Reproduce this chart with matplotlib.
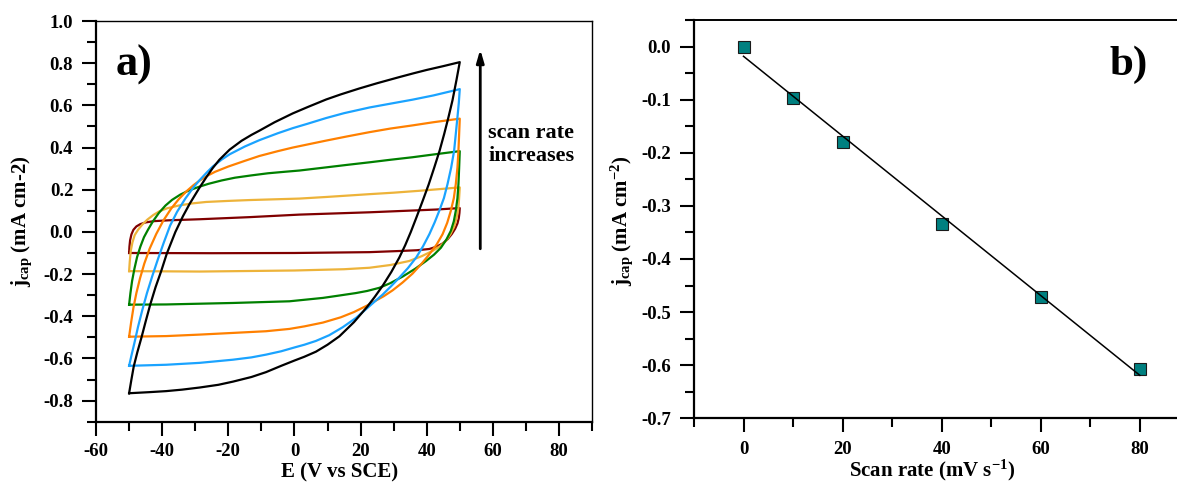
import numpy as np
import matplotlib
matplotlib.use("Agg")
import matplotlib.pyplot as plt
from matplotlib.ticker import MultipleLocator, FormatStrFormatter

# ---------------- panel a: cyclic voltammograms ----------------
# every loop: anodic sweep (-50 -> +50), then cathodic sweep (+50 -> -50)
red_up_E = [-50, -49.9, -49.7, -49.3, -48.7, -47.8, -46.6, -45.0, -42.5, -38.0, -28.7, -13.6, 1.5, 22.7, 42.8, 50]
red_up_j = [-0.100, -0.070, -0.040, -0.012, 0.010, 0.026, 0.037, 0.045, 0.051, 0.055, 0.060, 0.070, 0.082, 0.093, 0.106, 0.113]
red_dn_E = [50, 49.9, 49.7, 49.3, 48.6, 47.6, 46.3, 44.8, 43.0, 40.8, 37.0, 32.7, 22.7, 0, -25, -50]
red_dn_j = [0.113, 0.090, 0.065, 0.040, 0.015, -0.010, -0.035, -0.055, -0.070, -0.081, -0.087, -0.090, -0.096, -0.100, -0.101, -0.100]

yel_up_E = [-50, -49.8, -49.5, -49.0, -48.3, -47.3, -46.0, -44.5, -42.7, -40.8, -38.5, -35.0, -31.0, -26.7, -20.0, -13.6, -5.0, 1.5, 10.0, 22.7, 30.0, 37.8, 44.0, 50]
yel_up_j = [-0.186, -0.140, -0.090, -0.050, -0.015, 0.010, 0.035, 0.058, 0.080, 0.098, 0.112, 0.125, 0.135, 0.142, 0.147, 0.151, 0.155, 0.158, 0.166, 0.179, 0.186, 0.195, 0.203, 0.211]
yel_dn_E = [50, 49.8, 49.6, 49.1, 48.3, 47.2, 45.8, 44.0, 41.8, 38.5, 34.7, 29.0, 22.7, 15.0, 0, -28.7, -50]
yel_dn_j = [0.211, 0.160, 0.116, 0.070, 0.025, -0.010, -0.043, -0.068, -0.090, -0.115, -0.138, -0.157, -0.170, -0.177, -0.183, -0.188, -0.186]

grn_up_E = [-50, -49.6, -49.1, -48.4, -47.6, -46.6, -45.5, -44.3, -42.8, -41.0, -39.0, -37.0, -34.5, -32.0, -29.0, -26.0, -22.0, -18.0, -13.0, -8.0, -3.0, 1.5, 9.6, 16.0, 22.7, 29.0, 35.7, 42.0, 50]
grn_up_j = [-0.345, -0.290, -0.233, -0.175, -0.120, -0.070, -0.025, 0.010, 0.050, 0.090, 0.125, 0.152, 0.177, 0.196, 0.213, 0.228, 0.244, 0.257, 0.268, 0.278, 0.285, 0.291, 0.306, 0.318, 0.330, 0.342, 0.354, 0.367, 0.383]
grn_dn_E = [50, 49.8, 49.6, 49.3, 48.8, 48.2, 47.3, 46.0, 44.3, 42.2, 39.8, 36.5, 32.7, 29.0, 25.7, 22.0, 18.6, 13.0, 8.6, -1.5, -18.6, -38.8, -50]
grn_dn_j = [0.383, 0.300, 0.227, 0.160, 0.100, 0.050, 0.005, -0.035, -0.075, -0.108, -0.138, -0.175, -0.212, -0.243, -0.265, -0.280, -0.290, -0.303, -0.313, -0.329, -0.337, -0.344, -0.345]

org_up_E = [-50, -49.4, -48.7, -47.8, -46.7, -45.4, -43.8, -41.8, -39.6, -37.3, -35.0, -32.7, -30.5, -28.7, -26.5, -24.0, -20.0, -15.0, -10.6, -5.0, -0.5, 5.0, 9.6, 16.0, 22.7, 29.0, 35.7, 42.0, 50]
org_up_j = [-0.497, -0.430, -0.360, -0.290, -0.220, -0.150, -0.080, -0.010, 0.055, 0.110, 0.155, 0.192, 0.222, 0.243, 0.265, 0.285, 0.310, 0.337, 0.360, 0.383, 0.400, 0.418, 0.433, 0.453, 0.473, 0.490, 0.505, 0.520, 0.537]
org_dn_E = [50, 49.8, 49.6, 49.3, 48.8, 48.2, 47.3, 46.2, 44.8, 43.0, 40.8, 38.5, 35.7, 32.7, 29.7, 27.0, 24.7, 22.0, 18.0, 14.0, 8.6, 3.0, -1.5, -8.6, -18.6, -28.7, -38.8, -50]
org_dn_j = [0.537, 0.460, 0.386, 0.305, 0.227, 0.160, 0.100, 0.043, -0.011, -0.060, -0.106, -0.150, -0.198, -0.240, -0.277, -0.305, -0.325, -0.349, -0.380, -0.405, -0.430, -0.448, -0.460, -0.471, -0.479, -0.487, -0.494, -0.497]

blu_up_E = [-50, -49.2, -48.3, -47.3, -46.0, -44.6, -43.0, -41.3, -39.5, -37.6, -35.5, -33.0, -30.5, -28.7, -26.5, -24.7, -22.0, -19.6, -15.0, -10.6, -5.0, -0.5, 4.0, 9.6, 15.0, 22.7, 29.0, 35.7, 42.0, 50]
blu_up_j = [-0.635, -0.580, -0.520, -0.450, -0.370, -0.290, -0.210, -0.130, -0.050, 0.030, 0.095, 0.158, 0.212, 0.245, 0.282, 0.310, 0.343, 0.368, 0.405, 0.435, 0.468, 0.492, 0.513, 0.540, 0.563, 0.590, 0.608, 0.627, 0.647, 0.677]
blu_dn_E = [50, 49.7, 49.3, 48.8, 48.3, 47.4, 46.3, 45.2, 43.8, 42.4, 40.8, 38.9, 36.8, 34.3, 31.7, 29.2, 26.7, 24.5, 22.7, 18.7, 14.6, 10.5, 6.5, 3.0, 0, -4.0, -8.6, -13.0, -18.6, -28.7, -38.8, -50]
blu_dn_j = [0.677, 0.610, 0.544, 0.465, 0.386, 0.305, 0.227, 0.160, 0.100, 0.045, -0.011, -0.068, -0.122, -0.172, -0.217, -0.258, -0.297, -0.327, -0.352, -0.407, -0.452, -0.490, -0.517, -0.535, -0.548, -0.566, -0.582, -0.595, -0.606, -0.621, -0.630, -0.635]

blk_up_E = [-50, -49.3, -48.6, -47.5, -46.3, -45.0, -43.6, -42.0, -40.3, -38.6, -36.0, -33.7, -31.7, -28.7, -26.7, -24.7, -22.7, -19.6, -16.0, -13.0, -10.6, -6.0, -0.5, 4.0, 9.6, 14.0, 19.6, 25.0, 31.7, 36.0, 40.0, 45.0, 50]
blk_up_j = [-0.765, -0.700, -0.638, -0.570, -0.503, -0.425, -0.344, -0.262, -0.186, -0.103, 0.000, 0.075, 0.133, 0.210, 0.258, 0.303, 0.342, 0.390, 0.432, 0.460, 0.480, 0.520, 0.562, 0.592, 0.628, 0.652, 0.680, 0.705, 0.734, 0.752, 0.768, 0.786, 0.805]
blk_dn_E = [50, 49.0, 47.8, 46.6, 45.3, 43.9, 42.3, 40.6, 38.8, 37.0, 35.2, 33.5, 31.7, 29.3, 26.7, 24.3, 22.0, 18.0, 13.6, 10.0, 6.5, 3.0, 0, -4.0, -8.6, -13.0, -18.6, -23.0, -28.7, -34.0, -38.8, -44.0, -50]
blk_dn_j = [0.805, 0.720, 0.624, 0.545, 0.465, 0.385, 0.306, 0.225, 0.148, 0.073, 0.000, -0.063, -0.122, -0.190, -0.255, -0.308, -0.355, -0.428, -0.495, -0.535, -0.568, -0.592, -0.610, -0.635, -0.665, -0.688, -0.710, -0.725, -0.738, -0.748, -0.755, -0.760, -0.765]

cv_loops = [
    (red_up_E, red_up_j, red_dn_E, red_dn_j, "#800000"),
    (yel_up_E, yel_up_j, yel_dn_E, yel_dn_j, "#EDB33A"),
    (grn_up_E, grn_up_j, grn_dn_E, grn_dn_j, "#008000"),
    (org_up_E, org_up_j, org_dn_E, org_dn_j, "#FF8000"),
    (blu_up_E, blu_up_j, blu_dn_E, blu_dn_j, "#1AA3FF"),
    (blk_up_E, blk_up_j, blk_dn_E, blk_dn_j, "#000000"),
]

# ---------------- panel b: capacitive current vs scan rate ----------------
scan_rate = [0, 10, 20, 40, 60, 80]
j_cap = [0.000, -0.096, -0.179, -0.334, -0.4715, -0.6066]

# ---------------- style ----------------
plt.rcParams["font.family"] = ["Liberation Serif", "DejaVu Serif"]
plt.rcParams["font.weight"] = "bold"
plt.rcParams["axes.unicode_minus"] = False
plt.rcParams["mathtext.fontset"] = "custom"
plt.rcParams["mathtext.rm"] = "Liberation Serif:bold"
plt.rcParams["mathtext.it"] = "Liberation Serif:bold"
plt.rcParams["mathtext.bf"] = "Liberation Serif:bold"

fig = plt.figure(figsize=(11.77, 4.82), dpi=100)
ax1 = fig.add_axes([0.0816, 0.1251, 0.4214, 0.8313])
ax2 = fig.add_axes([0.5896, 0.1322, 0.4104, 0.8263])


def style_axes(ax):
    for side in ("left", "bottom"):
        ax.spines[side].set_linewidth(1.6)
    ax.tick_params(which="both", direction="out", width=1.5, labelsize=13.5,
                   top=False, right=False)
    ax.tick_params(which="major", length=10)
    ax.tick_params(which="minor", length=6.5)


# panel a
for upE, upj, dnE, dnj, col in cv_loops:
    ax1.plot(upE + dnE, upj + dnj, color=col, lw=1.6, solid_joinstyle="round")

ax1.set_xlim(-60, 90)
ax1.set_ylim(-0.9, 1.0)
ax1.xaxis.set_major_locator(MultipleLocator(20))
ax1.xaxis.set_minor_locator(MultipleLocator(10))
ax1.yaxis.set_major_locator(MultipleLocator(0.2))
ax1.yaxis.set_minor_locator(MultipleLocator(0.1))
ax1.xaxis.set_major_formatter(FormatStrFormatter("%d"))
ax1.yaxis.set_major_formatter(FormatStrFormatter("%.1f"))
style_axes(ax1)
ax1.tick_params(axis="y", pad=6.5)
ax1.tick_params(axis="x", pad=5)
ax1.spines["top"].set_linewidth(1.0)
ax1.spines["right"].set_linewidth(1.0)

ax1.set_xlabel("E (V vs SCE)", fontsize=15, fontweight="bold")
ax1.xaxis.set_label_coords(0.491, -0.102)
ax1.set_ylabel(r"$\mathrm{j}_{\mathrm{cap}}$ (mA cm-2)", fontsize=15, fontweight="bold")
ax1.yaxis.set_label_coords(-0.125, 0.5)

ax1.text(-54.1, 0.743, "a)", fontsize=32, fontweight="bold", va="baseline", ha="left")
ax1.annotate("", xy=(56.2, 0.865), xytext=(56.2, -0.08),
             arrowprops=dict(arrowstyle="-|>,head_length=0.75,head_width=0.22",
                             lw=2.0, color="black", shrinkA=0, shrinkB=0))
ax1.text(58.6, 0.414, "scan rate\nincreases", fontsize=16, fontweight="bold",
         ha="left", va="center", linespacing=1.25)

# panel b
slope, intercept = np.polyfit(scan_rate, j_cap, 1)
fit_x = np.array([scan_rate[0], scan_rate[-1]])
ax2.plot(scan_rate, j_cap, linestyle="none", marker="s", markersize=8,
         markerfacecolor="#008080", markeredgecolor="#1a1a1a", markeredgewidth=0.8, zorder=2)
ax2.plot(fit_x, slope * fit_x + intercept, color="black", lw=1.1, zorder=3)

ax2.set_xlim(-10, 87.5)
ax2.set_ylim(-0.7, 0.05)
ax2.xaxis.set_major_locator(MultipleLocator(20))
ax2.xaxis.set_minor_locator(MultipleLocator(10))
ax2.yaxis.set_major_locator(MultipleLocator(0.1))
ax2.yaxis.set_minor_locator(MultipleLocator(0.05))
ax2.xaxis.set_major_formatter(FormatStrFormatter("%d"))
ax2.yaxis.set_major_formatter(FormatStrFormatter("%.1f"))
style_axes(ax2)
ax2.tick_params(axis="y", pad=6.5)
ax2.tick_params(axis="x", pad=6)
ax2.spines["top"].set_linewidth(1.4)
ax2.spines["right"].set_visible(False)

ax2.set_xlabel(r"Scan rate (mV s$^{\mathrm{-1}}$)", fontsize=15, fontweight="bold")
ax2.xaxis.set_label_coords(0.493, -0.100)
ax2.set_ylabel(r"$\mathrm{j}_{\mathrm{cap}}$ (mA cm$^{\mathrm{-2}}$)", fontsize=15, fontweight="bold")
ax2.yaxis.set_label_coords(-0.122, 0.495)

ax2.text(73.9, -0.054, "b)", fontsize=31, fontweight="bold", va="baseline", ha="left")

fig.savefig("out.png", dpi=100)
